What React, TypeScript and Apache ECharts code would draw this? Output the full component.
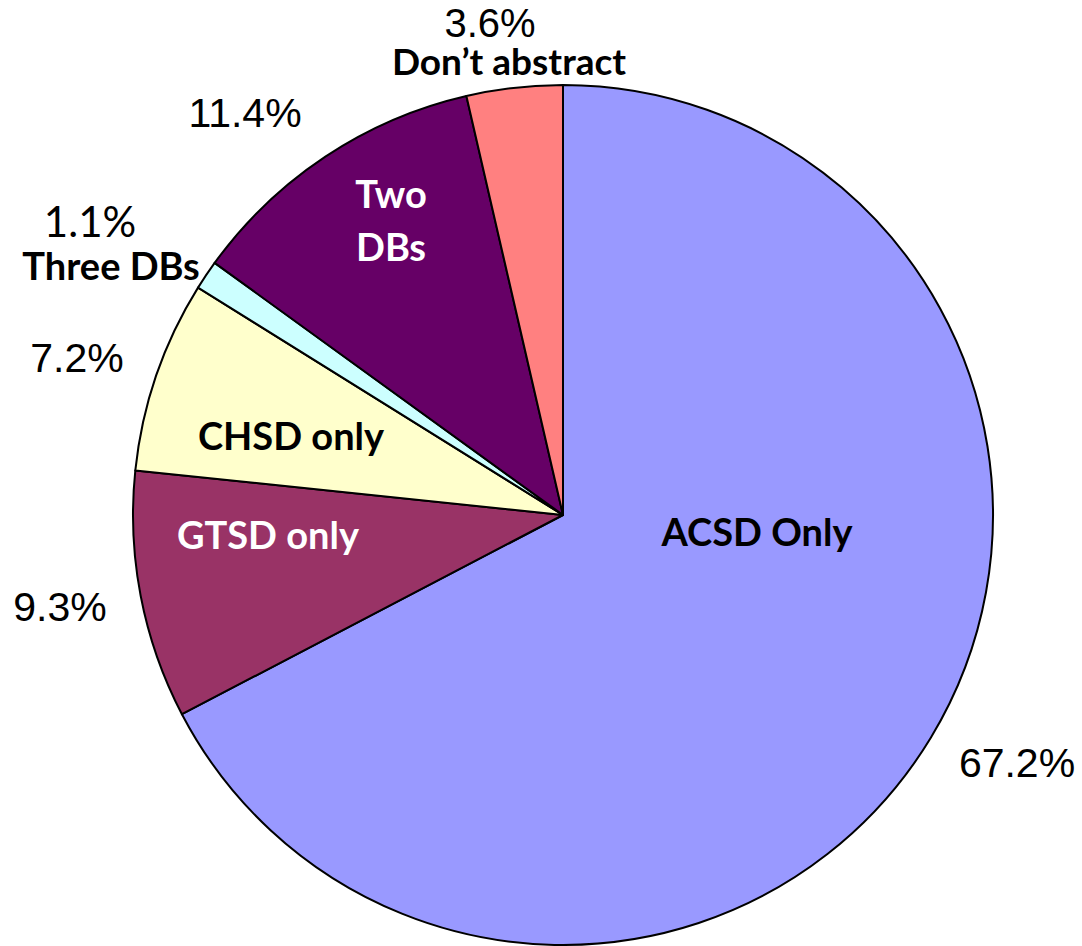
import React, { useEffect, useRef } from "react";
import * as echarts from "echarts";

// ---- data ----
const categories = ["ACSD Only", "GTSD only", "CHSD only", "Three DBs", "Two DBs", "Don\u2019t abstract"];
const nameLabels = ["ACSD Only", "GTSD only", "CHSD only", "Three DBs", "Two\nDBs", "Don\u2019t abstract"];
const shares = [67.2, 9.3, 7.2, 1.1, 11.4, 3.6];

// ---- styles ----
const sliceColors = ["#9999FF", "#993366", "#FFFFCC", "#CCFFFF", "#660066", "#FF8080"];
const nameColors = ["#000000", "#FFFFFF", "#000000", "#000000", "#FFFFFF", "#000000"];
const nameSizes = [38, 38, 38, 38, 38, 37];
const nameLineHeights = [40, 40, 40, 36, 53, 30];
const namePos: [number, number][] = [
  [757, 531],
  [268, 534],
  [291, 435],
  [111, 265],
  [391, 219],
  [509, 60],
];
const pctPos: [number, number][] = [
  [1017, 763],
  [60, 607],
  [77, 358],
  [90, 221],
  [245, 113],
  [490, 23],
];
const pctFonts = ["Liberation Sans", "Liberation Sans", "Liberation Sans", "Lato", "Liberation Sans", "Liberation Sans"];
const pctSizes = [41, 41, 41, 42, 41, 40];
const pctLineHeights = [44, 44, 44, 40, 44, 30];

export default function App() {
  const ref = useRef<HTMLDivElement>(null);
  useEffect(() => {
    document.body.style.margin = "0";
    const chart = echarts.init(ref.current!, null, { renderer: "svg" });
    const center = [563, 515];
    const radius = 430;
    chart.setOption({
      animation: false,
      backgroundColor: "#FFFFFF",
      series: [
        {
          type: "pie",
          center,
          radius,
          startAngle: 90,
          clockwise: true,
          avoidLabelOverlap: false,
          itemStyle: { borderColor: "#000000", borderWidth: 2 },
          label: {
            show: true,
            position: "inside",
            fontFamily: "Lato",
            fontWeight: "bold",
            formatter: (p: any) => nameLabels[p.dataIndex],
          },
          labelLine: { show: false },
          labelLayout: (p: any) => ({
            x: namePos[p.dataIndex][0],
            y: namePos[p.dataIndex][1],
            align: "center",
            verticalAlign: "middle",
          }),
          emphasis: { disabled: true },
          data: categories.map((c, i) => ({
            name: c,
            value: shares[i],
            itemStyle: { color: sliceColors[i] },
            label: { color: nameColors[i], fontSize: nameSizes[i], lineHeight: nameLineHeights[i] },
          })),
        },
        {
          type: "pie",
          center,
          radius,
          startAngle: 90,
          clockwise: true,
          silent: true,
          avoidLabelOverlap: false,
          itemStyle: { color: "rgba(0,0,0,0)", borderWidth: 0 },
          label: {
            show: true,
            position: "inside",
            color: "#000000",
            formatter: (p: any) => shares[p.dataIndex].toFixed(1) + "%",
          },
          labelLine: { show: false },
          labelLayout: (p: any) => ({
            x: pctPos[p.dataIndex][0],
            y: pctPos[p.dataIndex][1],
            align: "center",
            verticalAlign: "middle",
          }),
          emphasis: { disabled: true },
          data: categories.map((c, i) => ({
            name: c,
            value: shares[i],
            label: { fontFamily: pctFonts[i], fontSize: pctSizes[i], lineHeight: pctLineHeights[i] },
          })),
        },
      ],
    });
    return () => chart.dispose();
  }, []);
  return <div ref={ref} style={{ position: "fixed", left: 0, top: 0, width: 1082, height: 946 }} />;
}
